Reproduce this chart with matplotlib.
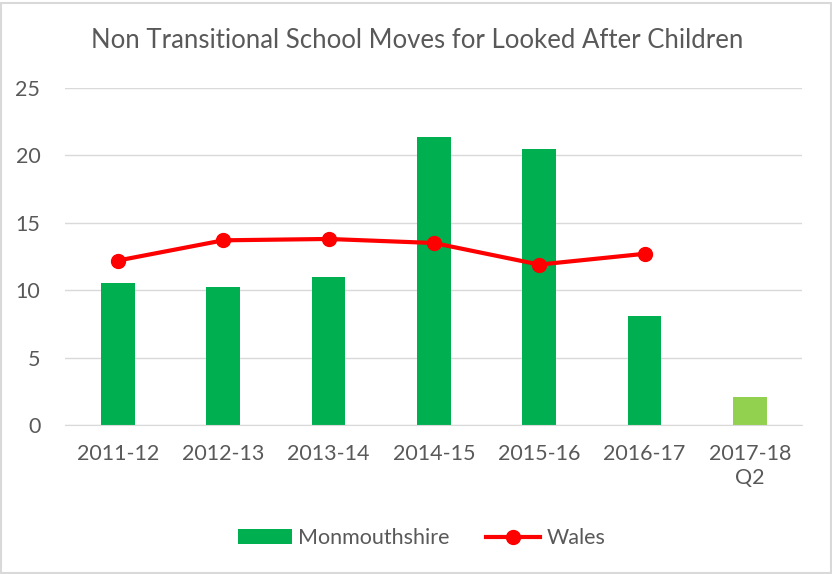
import matplotlib.pyplot as plt
import numpy as np

# values
years = ['2011-12', '2012-13', '2013-14', '2014-15', '2015-16', '2016-17', '2017-18\nQ2']
monmouthshire = [10.5, 10.2, 11.0, 21.4, 20.5, 8.1, 2.1]
wales = [12.2, 13.7, 13.8, 13.5, 11.9, 12.7]

plt.rcParams['font.family'] = ['Lato', 'DejaVu Sans']

fig = plt.figure(figsize=(8.32, 5.74), dpi=100)
ax = fig.add_axes([0.0785, 0.2596, 0.886, 0.5871])

x = np.arange(len(years))
bar_colors = ['#00B050'] * (len(years) - 1) + ['#92D050']
bars = ax.bar(x, monmouthshire, width=0.32, color=bar_colors, label='Monmouthshire', zorder=2)
line, = ax.plot(x[:len(wales)], wales, color='#FF0000', linewidth=3, marker='o', markersize=10,
                label='Wales', zorder=3)

ax.set_xlim(-0.5, len(years) - 0.5)
ax.set_ylim(0, 25)
ax.set_yticks(range(0, 26, 5))
ax.set_xticks(x)
ax.set_xticklabels(years, linespacing=1.25)
ax.tick_params(axis='both', length=0, labelsize=15.5, colors='#595959')
ax.tick_params(axis='x', pad=14)
ax.tick_params(axis='y', pad=18)
ax.grid(axis='y', color='#D9D9D9', linewidth=1, zorder=0)
for side in ['top', 'right', 'left']:
    ax.spines[side].set_visible(False)
ax.spines['bottom'].set_color('#D9D9D9')

fig.text(0.502, 0.93, 'Non Transitional School Moves for Looked After Children',
         fontsize=18.5, color='#595959', ha='center', va='center')

fig.legend([bars, line], ['Monmouthshire', 'Wales'], loc='center',
           bbox_to_anchor=(0.507, 0.062), ncol=2, frameon=False,
           fontsize=15.5, labelcolor='#595959', handlelength=2.5,
           handletextpad=0.3, columnspacing=1.7)

# light frame around the chart
fig.patches.append(plt.Rectangle((0.001, 0.001), 0.998, 0.994, transform=fig.transFigure,
                                 fill=False, edgecolor='#D9D9D9', linewidth=1.5))

fig.savefig('out.png', dpi=100)
